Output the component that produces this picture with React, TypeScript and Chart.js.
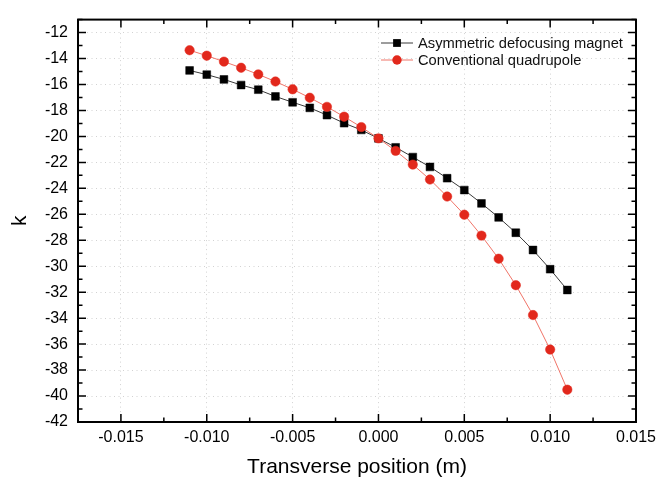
import React, { useEffect, useRef } from "react";
import { Chart, registerables } from "chart.js";

Chart.register(...registerables);

const positions = [
  -0.011, -0.01, -0.009, -0.008, -0.007, -0.006, -0.005, -0.004, -0.003, -0.002, -0.001,
  0, 0.001, 0.002, 0.003, 0.004, 0.005, 0.006, 0.007, 0.008, 0.009, 0.01, 0.011,
];
const asymmetricK = [
  -14.92, -15.24, -15.61, -16.04, -16.4, -16.92, -17.37, -17.8, -18.36, -18.98, -19.5,
  -20.15, -20.84, -21.59, -22.35, -23.22, -24.13, -25.16, -26.24, -27.42, -28.75, -30.23, -31.83,
];
const conventionalK = [
  -13.36, -13.78, -14.24, -14.71, -15.22, -15.77, -16.37, -17.02, -17.72, -18.48, -19.28,
  -20.15, -21.11, -22.17, -23.32, -24.63, -26.03, -27.64, -29.42, -31.46, -33.76, -36.42, -39.51,
];
const seriesNames = ["Asymmetric defocusing magnet", "Conventional quadrupole"];
const xTicks = [-0.015, -0.01, -0.005, 0, 0.005, 0.01, 0.015];
const xMinorTicks = [-0.0175, -0.0125, -0.0075, -0.0025, 0.0025, 0.0075, 0.0125];
const yTicks = [-42, -40, -38, -36, -34, -32, -30, -28, -26, -24, -22, -20, -18, -16, -14, -12];
const yMinorTicks = [-41, -39, -37, -35, -33, -31, -29, -27, -25, -23, -21, -19, -17, -15, -13, -11];
const xTitle = "Transverse position (m)";
const yTitle = "k";

const FONT = "'Liberation Sans', Arial, sans-serif";

const framePlugin = {
  id: "frameTicks",
  afterDatasetsDraw(chart: any) {
    const { ctx, chartArea: a, scales } = chart;
    const xs = scales.x;
    const ys = scales.y;
    ctx.save();
    ctx.strokeStyle = "#000";
    ctx.lineWidth = 1.5;
    ctx.beginPath();
    const tick = (len: number, xv: number[], yv: number[]) => {
      xv.forEach((v) => {
        const px = xs.getPixelForValue(v);
        ctx.moveTo(px, a.bottom);
        ctx.lineTo(px, a.bottom - len);
        ctx.moveTo(px, a.top);
        ctx.lineTo(px, a.top + len);
      });
      yv.forEach((v) => {
        const py = ys.getPixelForValue(v);
        ctx.moveTo(a.left, py);
        ctx.lineTo(a.left + len, py);
        ctx.moveTo(a.right, py);
        ctx.lineTo(a.right - len, py);
      });
    };
    tick(8, xTicks, yTicks);
    tick(4.5, xMinorTicks, yMinorTicks);
    ctx.stroke();
    ctx.lineWidth = 2;
    ctx.strokeRect(a.left, a.top, a.right - a.left, a.bottom - a.top);
    ctx.restore();
  },
};

const legendPlugin = {
  id: "customLegend",
  afterDraw(chart: any) {
    const { ctx } = chart;
    const x0 = 381;
    const x1 = 413;
    const ys = [43, 60];
    ctx.save();
    chart.data.datasets.forEach((ds: any, i: number) => {
      const y = ys[i];
      ctx.strokeStyle = ds.borderColor;
      ctx.lineWidth = 1;
      ctx.beginPath();
      ctx.moveTo(x0, y);
      ctx.lineTo(x1, y);
      ctx.stroke();
      const cx = (x0 + x1) / 2;
      ctx.fillStyle = ds.pointBackgroundColor;
      ctx.beginPath();
      if (ds.pointStyle === "rect") {
        const s = ds.pointRadius * Math.SQRT1_2;
        ctx.rect(cx - s, y - s, 2 * s, 2 * s);
      } else {
        ctx.arc(cx, y, ds.pointRadius, 0, Math.PI * 2);
      }
      ctx.fill();
      ctx.fillStyle = "#111";
      ctx.font = `14.7px ${FONT}`;
      ctx.textBaseline = "middle";
      ctx.textAlign = "left";
      ctx.fillText(ds.label, 418, y + 1);
    });
    ctx.restore();
  },
};

export default function App() {
  const ref = useRef<HTMLCanvasElement | null>(null);
  useEffect(() => {
    if (!ref.current) return;
    const chart = new Chart(ref.current, {
      type: "line",
      data: {
        datasets: [
          {
            label: seriesNames[0],
            data: positions.map((x, i) => ({ x, y: asymmetricK[i] })),
            borderColor: "#3a3a3a",
            borderWidth: 1,
            pointStyle: "rect",
            pointRadius: 5.5,
            pointBackgroundColor: "#000",
            pointBorderColor: "#000",
            pointBorderWidth: 0.5,
            order: 1,
          },
          {
            label: seriesNames[1],
            data: positions.map((x, i) => ({ x, y: conventionalK[i] })),
            borderColor: "#f07468",
            borderWidth: 1,
            pointStyle: "circle",
            pointRadius: 4.7,
            pointBackgroundColor: "#e2281c",
            pointBorderColor: "#e2281c",
            pointBorderWidth: 0.5,
            order: 0,
          },
        ] as any,
      },
      options: {
        animation: false,
        responsive: false,
        maintainAspectRatio: false,
        layout: { padding: { left: 0, top: 11, right: 36, bottom: 0 } },
        plugins: { legend: { display: false }, tooltip: { enabled: false } },
        scales: {
          x: {
            type: "linear",
            min: -0.0175,
            max: 0.015,
            afterBuildTicks: (s: any) => {
              s.ticks = xTicks.map((v) => ({ value: v }));
            },
            afterFit: (s: any) => {
              s.height = 58;
            },
            ticks: {
              callback: (v: any) => Number(v).toFixed(3),
              font: { family: FONT, size: 16 },
              color: "#000",
              padding: 6,
              maxRotation: 0,
            },
            grid: { color: "#d2d2d2", lineWidth: 1, drawTicks: false },
            border: { display: false, dash: [1, 3.5] },
            title: {
              display: true,
              text: xTitle,
              font: { family: FONT, size: 21 },
              color: "#000",
              padding: { top: 0, bottom: 0 },
            },
          },
          y: {
            type: "linear",
            min: -42,
            max: -11,
            afterBuildTicks: (s: any) => {
              s.ticks = yTicks.map((v) => ({ value: v }));
            },
            afterFit: (s: any) => {
              s.width = 78;
            },
            ticks: {
              font: { family: FONT, size: 16 },
              color: "#000",
              padding: 10,
            },
            grid: { color: "#d2d2d2", lineWidth: 1, drawTicks: false },
            border: { display: false, dash: [1, 3.5] },
            title: {
              display: true,
              text: yTitle,
              font: { family: FONT, size: 21 },
              color: "#000",
              padding: { top: 8, bottom: 0 },
            },
          },
        },
      } as any,
      plugins: [framePlugin, legendPlugin],
    });
    return () => chart.destroy();
  }, []);
  return (
    <div style={{ position: "absolute", left: 0, top: 0, width: 672, height: 480, background: "#fff" }}>
      <canvas ref={ref} width={672} height={480} style={{ display: "block" }} />
    </div>
  );
}
